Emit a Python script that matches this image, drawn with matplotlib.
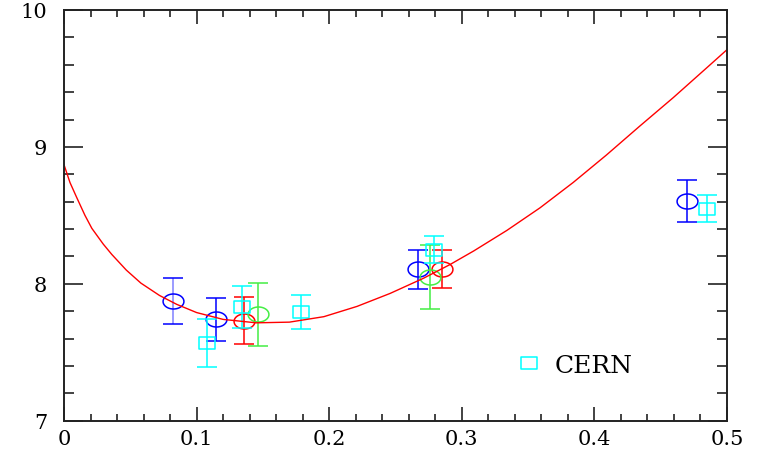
import numpy as np
import matplotlib
matplotlib.use("Agg")
import matplotlib.pyplot as plt
from matplotlib.path import Path
from matplotlib.lines import Line2D
from matplotlib.ticker import MultipleLocator

# measured points, grouped by colour
blue_x = [0.082, 0.1146, 0.2673, 0.4696]
blue_y = [7.875, 7.74, 8.105, 8.605]
blue_err = [0.17, 0.157, 0.14, 0.152]

red_x = [0.136, 0.2848]
red_y = [7.73, 8.11]
red_err = [0.17, 0.14]

green_x = [0.1466, 0.276]
green_y = [7.777, 8.048]
green_err = [0.232, 0.235]

cern_x = [0.1076, 0.1345, 0.1787, 0.2793, 0.4847]
cern_y = [7.567, 7.83, 7.795, 8.25, 8.55]
cern_err = [0.173, 0.153, 0.123, 0.10, 0.10]

# curve
curve_x = [0, 0.0045, 0.0096, 0.0158, 0.021, 0.0296, 0.036, 0.047, 0.058,
           0.072, 0.085, 0.1, 0.12, 0.145, 0.17, 0.196, 0.221, 0.246, 0.271,
           0.291, 0.309, 0.334, 0.359, 0.384, 0.409, 0.434, 0.4595, 0.485, 0.5]
curve_y = [8.87, 8.74, 8.63, 8.50, 8.405, 8.29, 8.215, 8.10, 8.005,
           7.915, 7.85, 7.79, 7.74, 7.715, 7.72, 7.76, 7.835, 7.93, 8.04,
           8.14, 8.24, 8.39, 8.555, 8.74, 8.94, 9.15, 9.36, 9.58, 9.71]

# squashed markers (the original picture is stretched)
t = np.linspace(0, 2 * np.pi, 80)
ellipse = Path(np.column_stack([np.cos(t), 0.72 * np.sin(t)]), closed=True)
rect = Path([(-1, -0.75), (1, -0.75), (1, 0.75), (-1, 0.75), (-1, -0.75)],
            closed=True)

plt.rcParams['font.family'] = ['DejaVu Serif']

fig = plt.figure(figsize=(7.61, 4.52), dpi=100)
ax = fig.add_axes([0.0841, 0.0670, 0.8712, 0.9087])


def _points(x, y, err, color, marker, ms):
    eb = ax.errorbar(x, y, yerr=err, fmt='none', ecolor=color, elinewidth=1.1,
                     capsize=7, capthick=1.1)
    ax.plot(x, y, linestyle='none', marker=marker, markersize=ms,
            markerfacecolor='none', markeredgecolor=color, markeredgewidth=1.1)
    return eb


eb = _points(blue_x, blue_y, blue_err, 'blue', ellipse, 15)
eb[2][0].set_color(['#8080ff', 'blue', 'blue', 'blue'])
_points(red_x, red_y, red_err, 'red', ellipse, 15)
_points(green_x, green_y, green_err, '#44ee44', ellipse, 15)
_points(cern_x, cern_y, cern_err, 'cyan', rect, 11.5)

ax.plot(curve_x, curve_y, color='red', linewidth=1.0)

ax.set_xlim(0, 0.5)
ax.set_ylim(7, 10)
ax.xaxis.set_minor_locator(MultipleLocator(0.02))
ax.yaxis.set_major_locator(MultipleLocator(1))
ax.yaxis.set_minor_locator(MultipleLocator(0.2))
ax.set_xticks(np.arange(0, 0.51, 0.1))
ax.set_xticklabels(['0', '0.1', '0.2', '0.3', '0.4', '0.5'])

ax.tick_params(which='both', direction='in', top=True, right=True,
               color='#222222', width=1.2, labelsize=15)
ax.tick_params(axis='x', which='major', length=10, pad=6)
ax.tick_params(axis='x', which='minor', length=5)
ax.tick_params(axis='y', which='major', length=14, pad=12)
ax.tick_params(axis='y', which='minor', length=7)
for sp in ax.spines.values():
    sp.set_linewidth(1.4)
    sp.set_color('#222222')

proxy = Line2D([], [], linestyle='none', marker=rect, markersize=11.5,
               markerfacecolor='none', markeredgecolor='cyan',
               markeredgewidth=1.1)
ax.legend([proxy], ['CERN'], loc='center left', bbox_to_anchor=(0.649, 0.134),
          frameon=False, fontsize=18, handletextpad=0.5, handlelength=1.0)

fig.savefig('out.png', dpi=100)
